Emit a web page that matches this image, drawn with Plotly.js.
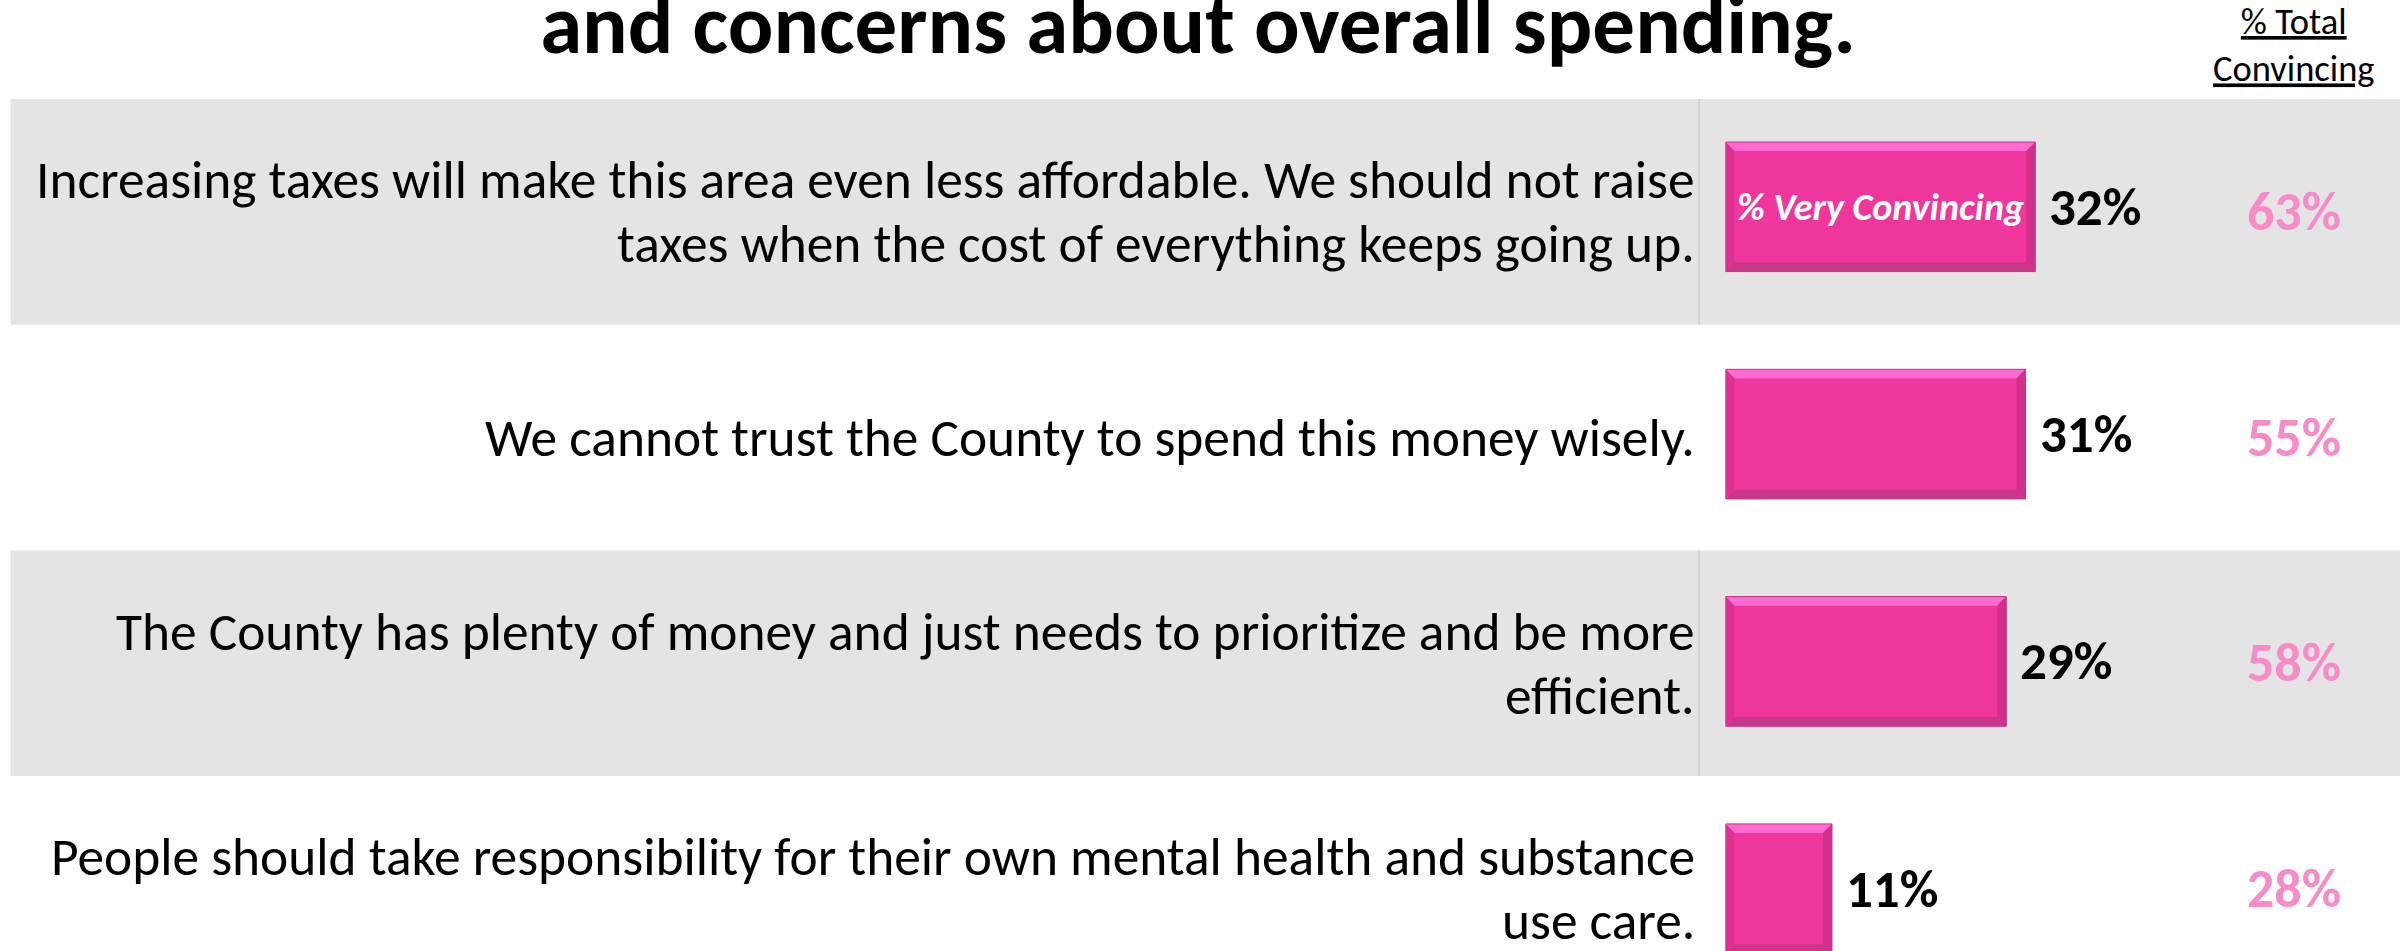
<!DOCTYPE html>
<html>
<head>
<meta charset="utf-8">
<script src="https://cdn.plot.ly/plotly-3.0.1.min.js"></script>
<style>
  html, body { margin: 0; padding: 0; background: #ffffff; }
  #chart { width: 2400px; height: 951px; }
</style>
</head>
<body>
<div id="chart"></div>
<script>
// ---- data ----
const titleText = "and concerns about overall spending.";
const headerText = "% Total<br>Convincing";
const insideText = "% Very Convincing";
const statements = [
  "Increasing taxes will make this area even less affordable. We should not raise<br>taxes when the cost of everything keeps going up.",
  "We cannot trust the County to spend this money wisely.",
  "The County has plenty of money and just needs to prioritize and be more<br>efficient.",
  "People should take responsibility for their own mental health and substance<br>use care."
];
const veryConvincing = [32, 31, 29, 11];
const totalConvincing = [63, 55, 58, 28];
const rowIndex = [0, 1, 2, 3];

// ---- style ----
const FONT = 'Carlito, Calibri, Lato, "Open Sans", sans-serif';
const BAR = '#EF369C';
const TOTAL_COLOR = '#F78BC7';
const BAND = '#E4E4E4';
const BAR_W = 0.57;
const BX = 0.93, BY = 0.04; // bevel size in data units
const LINE_GAP = 64;        // px between statement lines

const shapes = [];
// row bands (gray on alternate rows) and divider line
rowIndex.forEach(i => {
  if (i % 2 === 0) {
    shapes.push({type: 'rect', xref: 'paper', yref: 'y', x0: 10.5/2400, x1: 1, y0: i - 0.5, y1: i + 0.5,
      fillcolor: BAND, line: {width: 0}, layer: 'below'});
    shapes.push({type: 'line', xref: 'paper', yref: 'y', x0: 1699/2400, x1: 1699/2400, y0: i - 0.5, y1: i + 0.5,
      line: {color: '#CDCDCD', width: 1.5}, layer: 'below'});
  }
});
// bevel on each bar
veryConvincing.forEach((v, i) => {
  const t = i - BAR_W / 2, b = i + BAR_W / 2;
  const P = pts => 'M' + pts.map(p => p[0] + ',' + p[1]).join('L') + 'Z';
  shapes.push({type: 'path', xref: 'x', yref: 'y2', layer: 'above', line: {width: 0},
    fillcolor: '#FF6AD2', path: P([[0, t], [v, t], [v - BX, t + BY], [BX, t + BY]])});
  shapes.push({type: 'path', xref: 'x', yref: 'y2', layer: 'above', line: {width: 0},
    fillcolor: '#C9378A', path: P([[0, b], [v, b], [v - BX, b - BY], [BX, b - BY]])});
  shapes.push({type: 'path', xref: 'x', yref: 'y2', layer: 'above', line: {width: 0},
    fillcolor: '#DD3192', path: P([[0, t], [BX, t + BY], [BX, b - BY], [0, b]])});
  shapes.push({type: 'path', xref: 'x', yref: 'y2', layer: 'above', line: {width: 0},
    fillcolor: '#D22F8B', path: P([[v, t], [v - BX, t + BY], [v - BX, b - BY], [v, b]])});
  shapes.push({type: 'rect', xref: 'x', yref: 'y2', layer: 'above', x0: 0, x1: v, y0: t, y1: b,
    fillcolor: 'rgba(0,0,0,0)', line: {color: '#B83A80', width: 1}});
});

const annotations = [];
statements.forEach((s, i) => {
  const lines = s.split('<br>');
  lines.forEach((ln, k) => {
    annotations.push({xref: 'paper', yref: 'y', x: 1697/2400, y: rowIndex[i], text: ln, showarrow: false,
      yshift: ((lines.length - 1) / 2 - k) * LINE_GAP,
      xanchor: 'right', yanchor: 'middle', align: 'right', font: {family: FONT, size: 53.4, color: '#000000'}});
  });
});
veryConvincing.forEach((v, i) => {
  annotations.push({xref: 'x', yref: 'y2', x: v, y: rowIndex[i], text: v + '%', showarrow: false,
    xanchor: 'left', yanchor: 'middle', xshift: 12, font: {family: FONT, size: 53, color: '#000000', weight: 'bold'}});
});
totalConvincing.forEach((v, i) => {
  annotations.push({xref: 'paper', yref: 'y', x: 2294/2400, y: rowIndex[i], text: v + '%', showarrow: false,
    xanchor: 'center', yanchor: 'middle', font: {family: FONT, size: 54, color: TOTAL_COLOR, weight: 'bold'}});
});
annotations.push({xref: 'x', yref: 'y2', x: veryConvincing[0] / 2, y: rowIndex[0], text: insideText, showarrow: false,
  xanchor: 'center', yanchor: 'middle', font: {family: FONT, size: 38, color: '#FFFFFF', weight: 'bold', style: 'italic'}});
annotations.push({xref: 'paper', yref: 'paper', x: 2294/2400, y: 1 - 45/951, text: headerText, showarrow: false,
  xanchor: 'center', yanchor: 'middle', align: 'center', font: {family: FONT, size: 36.5, color: '#000000', lineposition: 'under'}});

const data = [{
  type: 'bar', orientation: 'h', x: veryConvincing, y: rowIndex, yaxis: 'y2',
  width: BAR_W, marker: {color: BAR, line: {width: 0}}, hoverinfo: 'skip', cliponaxis: false
}];

const layout = {
  width: 2400, height: 951,
  margin: {l: 0, r: 0, t: 0, b: 0, pad: 0},
  paper_bgcolor: '#FFFFFF', plot_bgcolor: 'rgba(0,0,0,0)',
  showlegend: false,
  title: {text: '<b>' + titleText + '</b>', x: 1198/2400, xanchor: 'center', y: 1 - 23/951, yanchor: 'middle',
    font: {family: FONT, size: 85, color: '#000000'}},
  xaxis: {domain: [1725.5/2400, 1], range: [0, 674.5/9.68], visible: false, fixedrange: true},
  yaxis: {domain: [0, 1], range: [3.2750, -0.9386], visible: false, fixedrange: true},
  yaxis2: {domain: [0, 1], range: [3.2741, -0.9098], visible: false, overlaying: 'y', fixedrange: true},
  shapes: shapes,
  annotations: annotations
};

Plotly.newPlot('chart', data, layout, {displayModeBar: false, staticPlot: true});
</script>
</body>
</html>
